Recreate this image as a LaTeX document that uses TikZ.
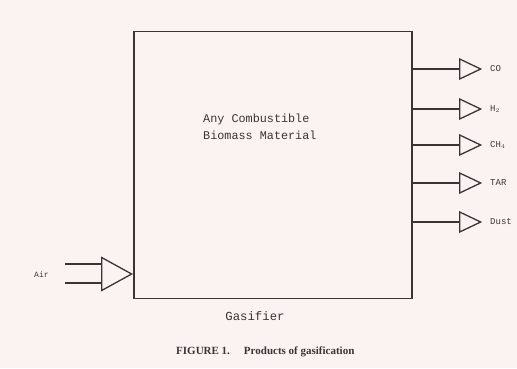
\documentclass[tikz,border=0pt]{standalone}
\usepackage{fontspec}
\setmonofont{Liberation Mono}
\setmainfont{Liberation Serif}
\usetikzlibrary{shapes.geometric}
\definecolor{paper}{HTML}{FAF3F1}
\definecolor{ink}{HTML}{3A3535}
\tikzset{
  lin/.style={draw=ink, line width=1.3pt},
  outtri/.style={isosceles triangle, isosceles triangle stretches, draw=ink, line width=1.3pt,
    minimum width=20pt, minimum height=21pt, inner sep=0pt, anchor=west, shape border rotate=0},
  intri/.style={isosceles triangle, isosceles triangle stretches, draw=ink, line width=1.3pt,
    minimum width=33pt, minimum height=30pt, inner sep=0pt, anchor=apex, shape border rotate=0},
  lbl/.style={font=\ttfamily\fontsize{9}{10}\selectfont, text=ink, anchor=west, inner sep=0pt},
  body/.style={font=\ttfamily\fontsize{11.8}{13}\selectfont, text=ink, inner sep=0pt}
}
\begin{document}
\begin{tikzpicture}[x=1pt,y=-1pt]
\fill[paper] (0,0) rectangle (517,368);
\useasboundingbox (0,0) rectangle (517,368);
\node[draw=ink, line width=1.3pt, minimum width=278pt, minimum height=267pt, inner sep=0pt] (gas) at (273,165) {};
\node[body, align=left, anchor=west] (txt) at (203,127) {Any Combustible\\[4pt]Biomass Material};
\node[body, font=\ttfamily\fontsize{12.3}{14}\selectfont] (gl) at (255,316) {Gasifier};
\node[font=\fontsize{11}{12}\selectfont\bfseries, text=ink, anchor=west, inner sep=0pt] (cap) at (176,352) {FIGURE 1.\hspace{14pt}Products of gasification};
% outputs
\foreach \n/\y/\t in {co/69/CO, h/109/{H$_2$}, ch/145/{CH$_4$}, tar/183/TAR, dust/222/Dust}{
  \node[outtri] (t\n) at (459,\y) {};
  \draw[lin] (gas.east |- t\n.west) -- (t\n.west);
  \node[lbl] (l\n) at (490,\y) {\t};
}
% air input
\node[intri] (air) at (gas.west |- 0,274) {};
\coordinate (a1) at (65,264);
\coordinate (a2) at (65,283);
\draw[lin] (a1) -- (a1 -| air.west);
\draw[lin] (a2) -- (a2 -| air.west);
\node[lbl, font=\ttfamily\fontsize{8}{9}\selectfont] (al) at (34,275) {Air};
\end{tikzpicture}
\end{document}
